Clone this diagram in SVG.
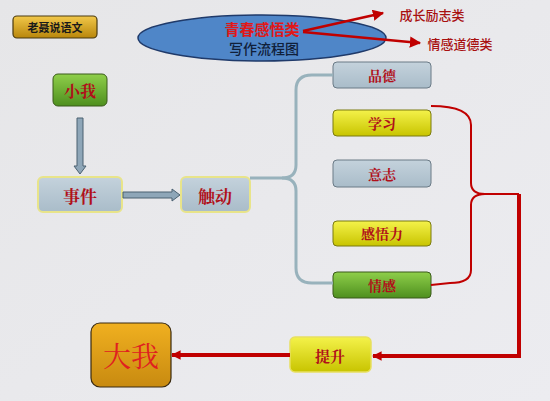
<svg xmlns="http://www.w3.org/2000/svg" width="550" height="401" viewBox="0 0 550 401">
<defs>
<linearGradient id="gold" x1="0" y1="0" x2="0" y2="1"><stop offset="0" stop-color="#f2c84a"/><stop offset="1" stop-color="#b8860b"/></linearGradient>
<linearGradient id="big" x1="0" y1="0" x2="0" y2="1"><stop offset="0" stop-color="#f0b020"/><stop offset="1" stop-color="#c88a10"/></linearGradient>
<linearGradient id="green" x1="0" y1="0" x2="0" y2="1"><stop offset="0" stop-color="#8fcf4a"/><stop offset="1" stop-color="#4e8f1e"/></linearGradient>
<linearGradient id="yellow" x1="0" y1="0" x2="0" y2="1"><stop offset="0" stop-color="#f4f24a"/><stop offset="1" stop-color="#c8c400"/></linearGradient>
<linearGradient id="gray" x1="0" y1="0" x2="0" y2="1"><stop offset="0" stop-color="#c4d2dc"/><stop offset="1" stop-color="#a9bcc9"/></linearGradient>
<linearGradient id="bg" x1="0" y1="0" x2="1" y2="1"><stop offset="0" stop-color="#e6e6e8"/><stop offset="1" stop-color="#ececf0"/></linearGradient>
<marker id="red" viewBox="0 0 10 10" refX="9" refY="5" markerWidth="4.5" markerHeight="4.5" orient="auto"><path d="M0,0 L10,5 L0,10 z" fill="#c00000"/></marker>
<marker id="redS" viewBox="0 0 10 10" refX="9" refY="5" markerWidth="2.4" markerHeight="2.4" orient="auto"><path d="M0,0 L10,5 L0,10 z" fill="#c00000"/></marker>
</defs>
<style>
.t{font-family:"Noto Sans CJK SC",sans-serif;font-weight:bold;fill:#b0101a;text-anchor:middle;dominant-baseline:central}
.s{font-family:"Noto Serif CJK SC","Noto Sans CJK SC",serif;font-weight:bold;fill:#b0101a;text-anchor:middle;dominant-baseline:central}
.node{stroke:#6a7a86;stroke-width:1}
.glow{stroke:#e8e48a;stroke-width:2}
</style>
<rect width="550" height="401" fill="url(#bg)"/>

<g id="logo">
<rect x="13" y="16" width="84" height="22" rx="4" fill="url(#gold)" stroke="#4a3a10" stroke-width="1.2"/>
<text x="55" y="27" class="t" style="fill:#1a1a1a;font-size:11px">老聂说语文</text>
</g>

<g id="title">
<ellipse cx="262" cy="38" rx="124" ry="23" fill="#4f86c8" stroke="#1f3a6a" stroke-width="1.5"/>
<text x="262" y="28" class="t" style="font-size:15px;fill:#e01818">青春感悟类</text>
<text x="264" y="48" class="t" style="font-size:14px;fill:#10203a;font-weight:500">写作流程图</text>
</g>

<g id="label1"><text x="432" y="14" class="t" style="font-size:13px;fill:#a81010;font-weight:500">成长励志类</text></g>
<g id="label2"><text x="460" y="43" class="t" style="font-size:13px;fill:#a81010;font-weight:500">情感道德类</text></g>

<g id="xiaowo">
<rect x="53" y="74" width="54" height="32" rx="5" fill="url(#green)" stroke="#3a5a1a" stroke-width="1"/>
<text x="80" y="90" class="s" style="font-size:16px">小我</text>
</g>
<g id="shijian">
<rect x="38" y="177" width="84" height="35" rx="5" fill="url(#gray)" class="glow"/>
<text x="80" y="195" class="s" style="font-size:17px">事件</text>
</g>
<g id="chudong">
<rect x="181" y="177" width="69" height="35" rx="5" fill="url(#gray)" class="glow"/>
<text x="215" y="195" class="s" style="font-size:17px">触动</text>
</g>

<g id="pinde"><rect x="333" y="62" width="98" height="26" rx="4" fill="url(#gray)" class="node"/><text x="382" y="75" class="s" style="font-size:14px">品德</text></g>
<g id="xuexi"><rect x="333" y="110" width="98" height="26" rx="4" fill="url(#yellow)" stroke="#7a7a10" stroke-width="1"/><text x="382" y="123" class="s" style="font-size:14px">学习</text></g>
<g id="yizhi"><rect x="333" y="160" width="98" height="27" rx="4" fill="url(#gray)" class="node"/><text x="382" y="174" class="s" style="font-size:14px">意志</text></g>
<g id="ganwuli"><rect x="333" y="221" width="98" height="25" rx="4" fill="url(#yellow)" stroke="#7a7a10" stroke-width="1"/><text x="382" y="233" class="s" style="font-size:14px">感悟力</text></g>
<g id="qinggan"><rect x="333" y="272" width="98" height="26" rx="4" fill="url(#green)" stroke="#3a5a1a" stroke-width="1"/><text x="382" y="285" class="s" style="font-size:14px">情感</text></g>

<g id="tisheng">
<rect x="290" y="337" width="81" height="35" rx="5" fill="url(#yellow)" stroke="#e8e060" stroke-width="1.5"/>
<text x="330" y="355" class="s" style="font-size:15px">提升</text>
</g>
<g id="dawo">
<rect x="91" y="323" width="80" height="64" rx="9" fill="url(#big)" stroke="#3a2a10" stroke-width="1.2"/>
<text x="131" y="355" class="t" style="font-size:28px;fill:#e02020;font-family:'Noto Serif CJK SC','Noto Sans CJK SC',serif;font-weight:normal">大我</text>
</g>

<g id="connectors" fill="none">
<line x1="303" y1="31" x2="383" y2="13" stroke="#c00000" stroke-width="2.5" marker-end="url(#red)"/>
<line x1="303" y1="32" x2="420" y2="43" stroke="#c00000" stroke-width="2.5" marker-end="url(#red)"/>
<path d="M77,118 L83,118 L83,166 L86,166 L80,174 L74,166 L77,166 Z" fill="#8ea6b8" stroke="#4a6070" stroke-width="1"/>
<path d="M123,192 L172,192 L172,189 L180,195 L172,201 L172,198 L123,198 Z" fill="#8ea6b8" stroke="#4a6070" stroke-width="1"/>
<path d="M250,178 L282,178 Q296,178 296,165 L296,90 Q296,75 312,75 L333,75" stroke="#98b2bc" stroke-width="3"/>
<path d="M282,178 Q296,178 296,191 L296,268 Q296,283 312,283 L333,283" stroke="#98b2bc" stroke-width="3"/>
<path d="M431,106 Q471,106 471,125 L471,183 Q471,194 485,194 L519,194" stroke="#c00000" stroke-width="2"/>
<path d="M485,194 Q471,194 471,205 L471,270 Q471,283 450,283 L431,285" stroke="#c00000" stroke-width="2"/>
<path d="M519,194 L519,356 L373,356" stroke="#c00000" stroke-width="4" marker-end="url(#redS)"/>
<line x1="290" y1="355" x2="172" y2="355" stroke="#c00000" stroke-width="4" marker-end="url(#redS)"/>
</g>
</svg>
